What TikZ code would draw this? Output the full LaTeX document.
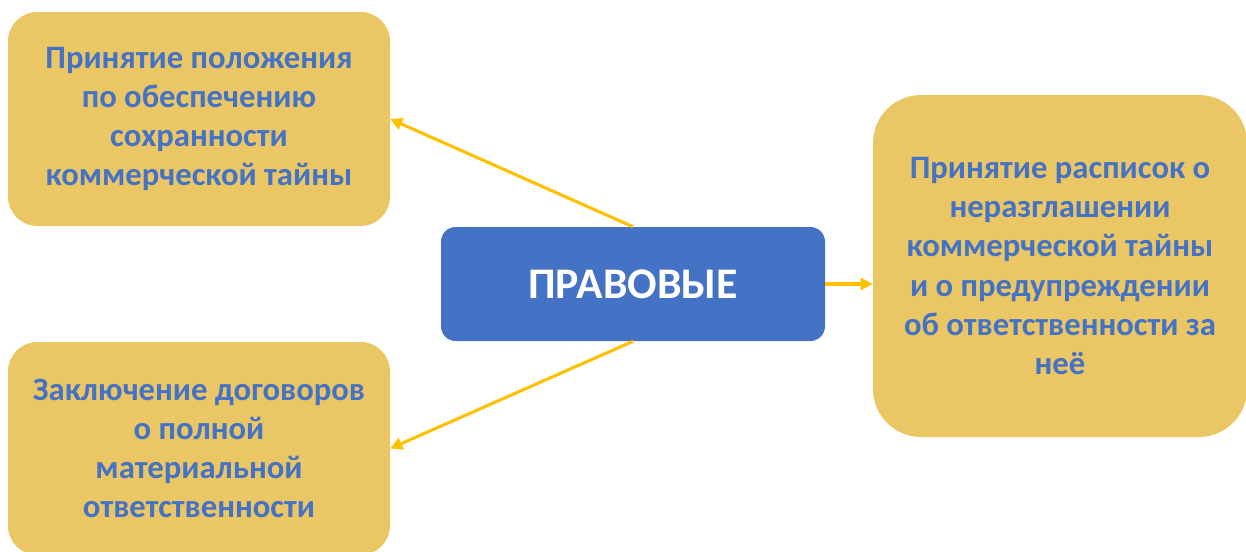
\documentclass[tikz,border=0pt]{standalone}
\usepackage{fontspec}
\setmainfont{Carlito}
\usetikzlibrary{arrows.meta}
\definecolor{boxyellow}{HTML}{EAC665}
\definecolor{boxblue}{HTML}{4472C4}
\definecolor{arrowyellow}{HTML}{FFC000}
\tikzset{
  ybox/.style={fill=boxyellow, draw=none, align=center, text=boxblue,
    font=\bfseries\fontsize{24.5}{29.3}\selectfont, inner sep=0pt},
  bbox/.style={fill=boxblue, draw=none, text=white, rounded corners=11pt,
    font=\bfseries\fontsize{32.8}{36}\selectfont, inner sep=0pt},
  link/.style={draw=arrowyellow, line width=2.3pt,
    -{Triangle[length=9pt,width=9pt]}, shorten >=0pt}
}
\begin{document}
\begin{tikzpicture}[x=0.75pt,y=-0.75pt]
\useasboundingbox (0,0) rectangle (1246,551);
\node[ybox, rounded corners=22pt, minimum width=382*0.75pt, minimum height=214*0.75pt] (tl) at (199,119)
  {Принятие положения\\по обеспечению\\сохранности\\коммерческой тайны};
\node[ybox, rounded corners=22pt, minimum width=382*0.75pt, minimum height=213*0.75pt] (bl) at (199,448.5)
  {Заключение договоров\\о полной\\материальной\\ответственности};
\node[ybox, rounded corners=36pt, minimum width=374*0.75pt, minimum height=342*0.75pt] (r) at (1060,266)
  {Принятие расписок о\\неразглашении\\коммерческой тайны\\и о предупреждении\\об ответственности за\\неё};
\node[bbox, minimum width=384*0.75pt, minimum height=114*0.75pt] (c) at (633,284) {ПРАВОВЫЕ};
\draw[link] (c.north) -- (tl.east);
\draw[link] (c.south) -- (bl.east);
\draw[link] (c.east) -- (c.east -| r.west);
\end{tikzpicture}
\end{document}
